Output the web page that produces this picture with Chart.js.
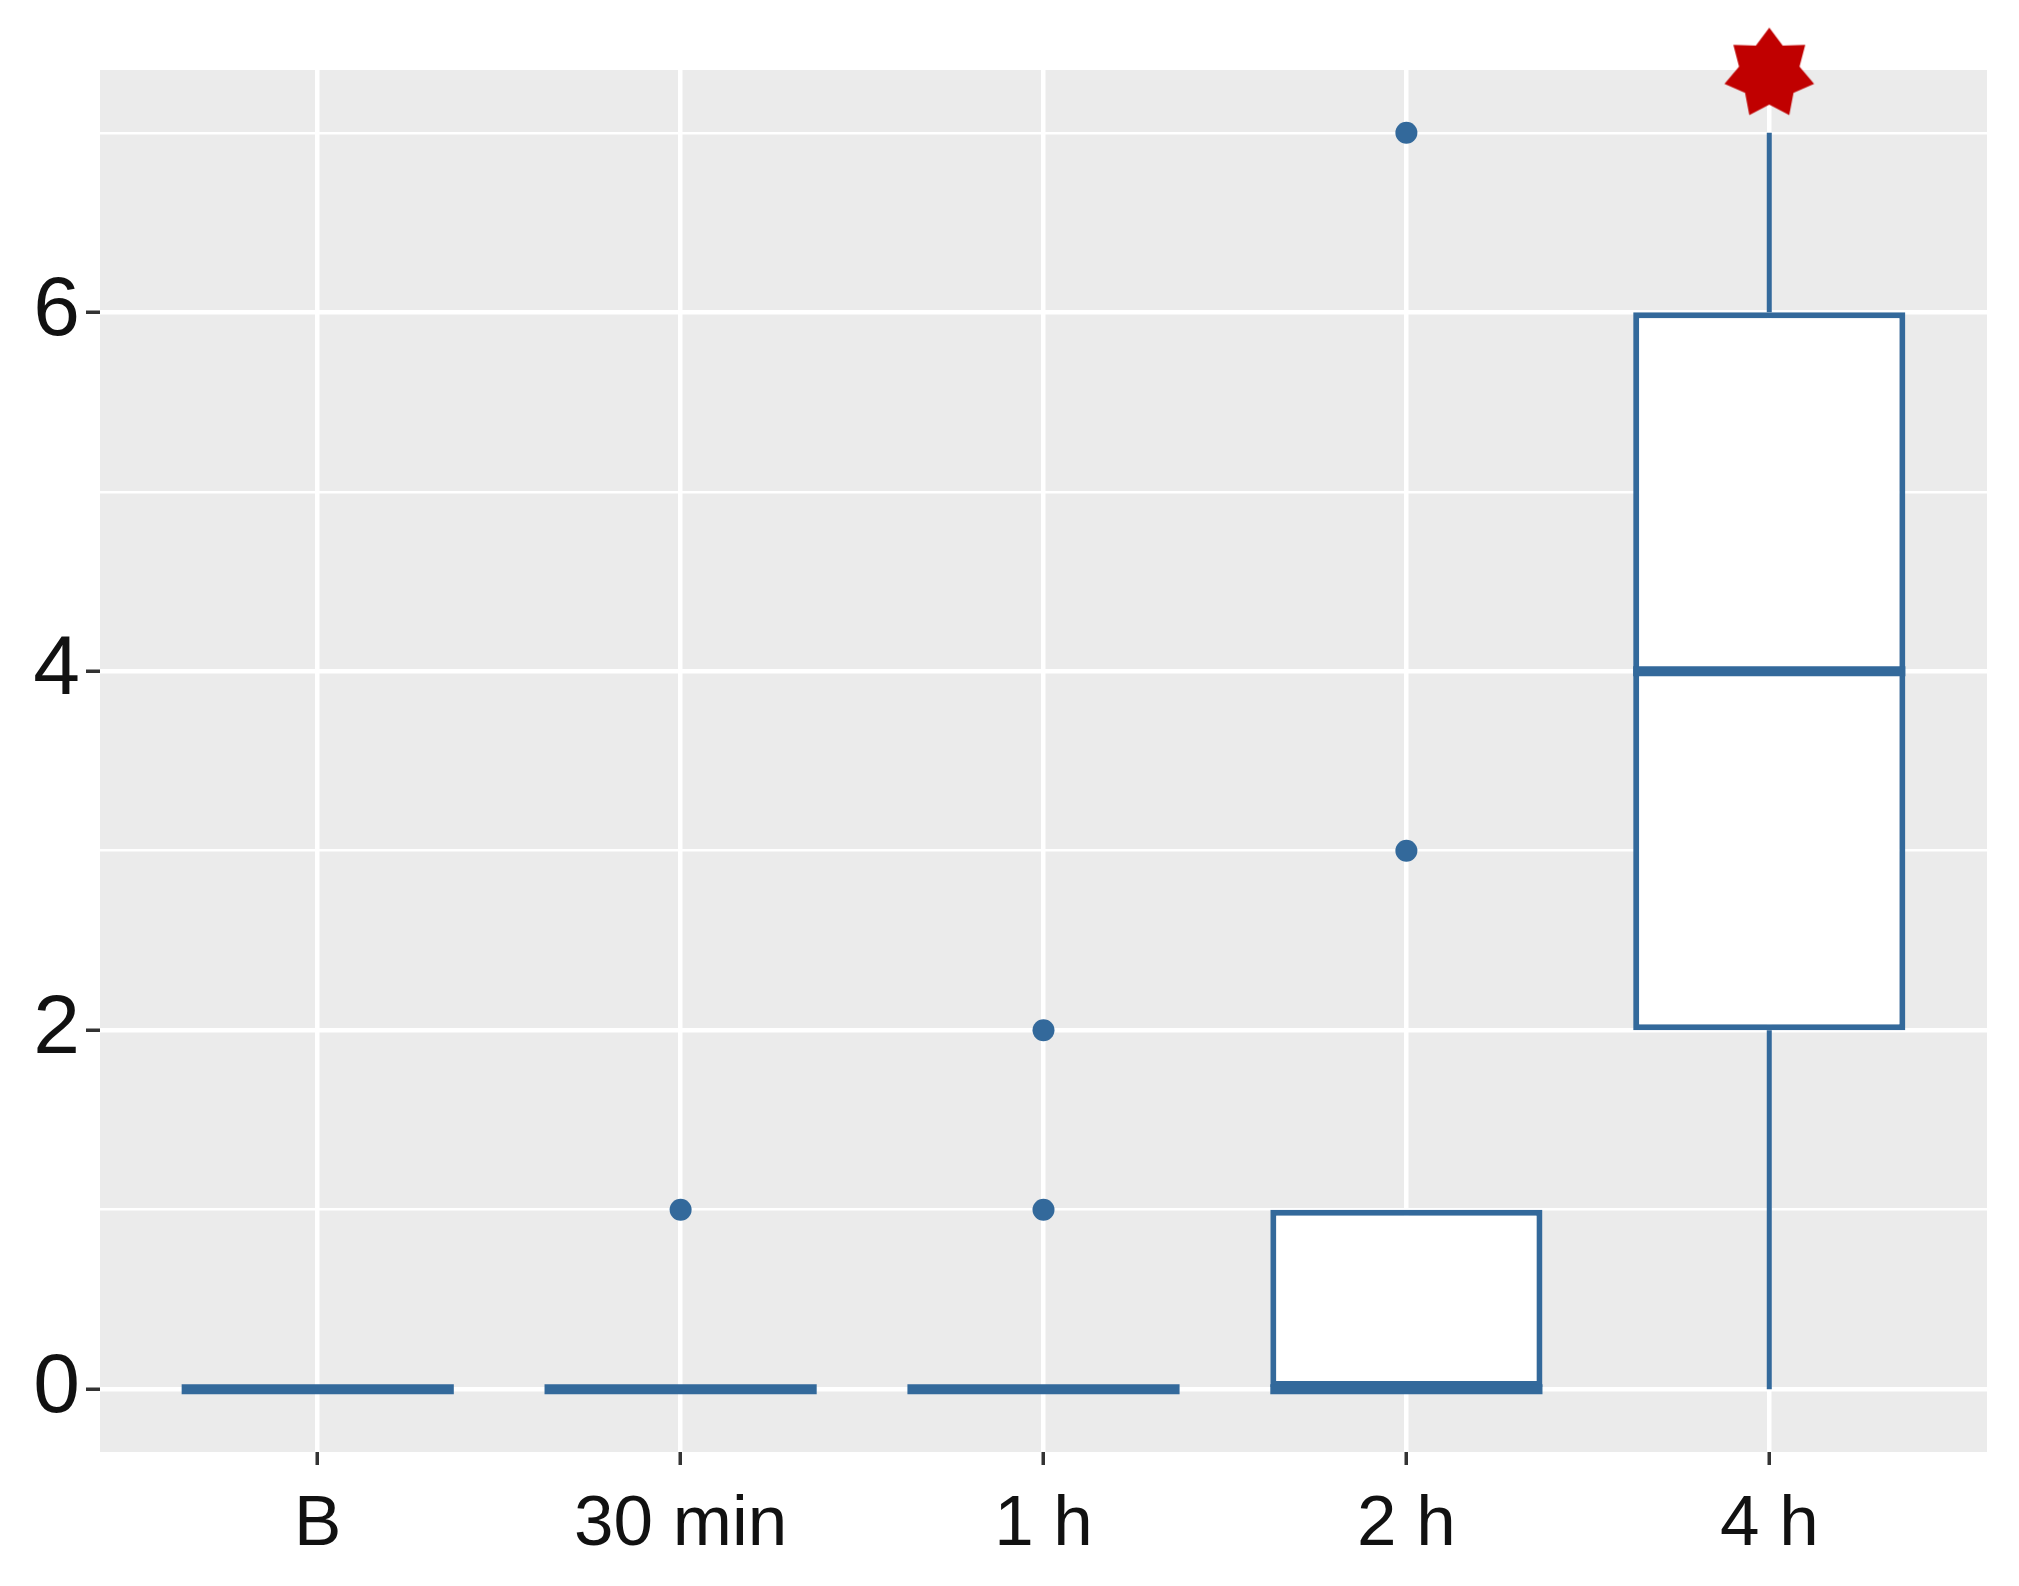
<!DOCTYPE html>
<html>
<head>
<meta charset="utf-8">
<script src="https://cdn.jsdelivr.net/npm/chart.js@4.4.1/dist/chart.umd.min.js"></script>
<style>
  html, body { margin: 0; padding: 0; background: #ffffff; overflow: hidden; }
  #caixa { width: 2019px; height: 1586px; position: relative; }
</style>
</head>
<body>
<div id="caixa"><canvas id="grafico"></canvas></div>
<script>
// ---------------- dados ----------------
const categorias = ["B", "30 min", "1 h", "2 h", "4 h"];
const minimos   = [0, 0, 0, 0, 0];   // fim do bigode inferior
const quartil1  = [0, 0, 0, 0, 2];
const medianas  = [0, 0, 0, 0, 4];
const quartil3  = [0, 0, 0, 1, 6];
const maximos   = [0, 0, 0, 1, 7];   // fim do bigode superior
const outliersCategoria = [2, 3, 3, 4, 4];
const outliersValor     = [1, 1, 2, 3, 7];
const estrelaCategoria = [5];
const estrelaValor     = [7.33];
const ticksY       = [0, 1, 2, 3, 4, 5, 6, 7];
const ticksYMaior  = [0, 2, 4, 6];

const azul = '#33699B';
const vermelho = '#C00000';

// estrela de 7 pontas desenhada num canvas pequeno, usada como pointStyle
function criarEstrela(rExterno, rInterno, pontas, cor) {
    const c = document.createElement('canvas');
    c.width = rExterno * 2 + 2;
    c.height = rExterno * 2 + 2;
    const g = c.getContext('2d');
    const cx = c.width / 2, cy = c.height / 2;
    g.beginPath();
    for (let i = 0; i < pontas * 2; i++) {
        const r = i % 2 === 0 ? rExterno : rInterno;
        const a = -Math.PI / 2 + i * Math.PI / pontas;
        const px = cx + r * Math.cos(a), py = cy + r * Math.sin(a);
        if (i === 0) g.moveTo(px, py); else g.lineTo(px, py);
    }
    g.closePath();
    g.fillStyle = cor;
    g.fill();
    return c;
}

// monta os dados para o chart a partir dos arrays
const dadosCaixas = categorias.map((c, i) => ({ x: i + 1, y: [quartil1[i], quartil3[i]] }));

let dadosBigodes = [];
categorias.forEach((c, i) => {
    if (quartil1[i] > minimos[i]) {
        dadosBigodes.push({ x: i + 1, y: minimos[i] }, { x: i + 1, y: quartil1[i] }, { x: i + 1, y: null });
    }
    if (maximos[i] > quartil3[i]) {
        dadosBigodes.push({ x: i + 1, y: quartil3[i] }, { x: i + 1, y: maximos[i] }, { x: i + 1, y: null });
    }
});

const dadosOutliers = outliersCategoria.map((c, i) => ({ x: c, y: outliersValor[i] }));
const dadosEstrela = estrelaCategoria.map((c, i) => ({ x: c, y: estrelaValor[i] }));

// ---------------- plugins ----------------
const fundoPainel = {
    id: 'fundoPainel',
    beforeDraw(chart) {
        const a = chart.chartArea;
        const ctx = chart.ctx;
        ctx.save();
        ctx.fillStyle = '#EBEBEB';
        ctx.fillRect(a.left, a.top, a.right - a.left, a.bottom - a.top);
        ctx.restore();
    }
};

// linha da mediana (mais grossa), usando a largura das barras
const linhaMediana = {
    id: 'linhaMediana',
    afterDatasetDraw(chart, args) {
        if (args.index !== 2) return;
        const ctx = chart.ctx;
        const y = chart.scales.y;
        ctx.save();
        ctx.strokeStyle = azul;
        ctx.lineWidth = 10;
        args.meta.data.forEach((el, i) => {
            const py = y.getPixelForValue(medianas[i]);
            ctx.beginPath();
            ctx.moveTo(el.x - el.width / 2, py);
            ctx.lineTo(el.x + el.width / 2, py);
            ctx.stroke();
        });
        ctx.restore();
    }
};

// ---------------- grafico ----------------
const ctx = document.getElementById('grafico').getContext('2d');

new Chart(ctx, {
    type: 'bar',
    data: {
        datasets: [
            {
                type: 'scatter',
                data: dadosEstrela,
                pointStyle: criarEstrela(46, 31, 7, vermelho),
                pointRadius: 46,
                clip: false
            },
            {
                type: 'scatter',
                data: dadosOutliers,
                backgroundColor: azul,
                borderColor: azul,
                pointRadius: 11,
                borderWidth: 0
            },
            {
                type: 'bar',
                data: dadosCaixas,
                backgroundColor: '#ffffff',
                borderColor: azul,
                borderWidth: 6,
                borderSkipped: false,
                barPercentage: 0.75,
                categoryPercentage: 1
            },
            {
                type: 'line',
                data: dadosBigodes,
                borderColor: azul,
                borderWidth: 5,
                pointRadius: 0,
                spanGaps: false,
                fill: false
            }
        ]
    },
    options: {
        responsive: true,
        maintainAspectRatio: false,
        animation: false,
        layout: { autoPadding: false, padding: { top: 70, right: 32, left: 0, bottom: 0 } },
        plugins: {
            legend: { display: false },
            tooltip: { enabled: false }
        },
        scales: {
            x: {
                type: 'linear',
                min: 0.4,
                max: 5.6,
                offset: false,
                afterBuildTicks: (s) => { s.ticks = categorias.map((c, i) => ({ value: i + 1 })); },
                afterFit: (s) => { s.height = 134; s.paddingLeft = 0; s.paddingRight = 0; },
                border: { display: false },
                grid: {
                    offset: false,
                    color: '#ffffff',
                    lineWidth: 4.5,
                    tickColor: '#333333',
                    tickLength: 13,
                    tickWidth: 3.5
                },
                ticks: {
                    autoSkip: false,
                    maxRotation: 0,
                    padding: 18,
                    color: '#111111',
                    font: { family: 'Liberation Sans, Arial, sans-serif', size: 71 },
                    callback: (v) => categorias[v - 1]
                }
            },
            y: {
                type: 'linear',
                min: -0.35,
                max: 7.35,
                afterBuildTicks: (s) => { s.ticks = ticksY.map(v => ({ value: v })); },
                afterFit: (s) => { s.width = 100; s.paddingTop = 0; s.paddingBottom = 0; },
                border: { display: false },
                grid: {
                    color: '#ffffff',
                    lineWidth: (c) => ticksYMaior.includes(c.tick.value) ? 4.5 : 2.5,
                    tickColor: (c) => ticksYMaior.includes(c.tick.value) ? '#333333' : 'rgba(0,0,0,0)',
                    tickLength: 14,
                    tickWidth: 3.5
                },
                ticks: {
                    autoSkip: false,
                    padding: 6,
                    color: '#111111',
                    font: { family: 'Liberation Sans, Arial, sans-serif', size: 84 },
                    callback: (v) => ticksYMaior.includes(v) ? String(v) : ''
                }
            }
        }
    },
    plugins: [fundoPainel, linhaMediana]
});
</script>
</body>
</html>
